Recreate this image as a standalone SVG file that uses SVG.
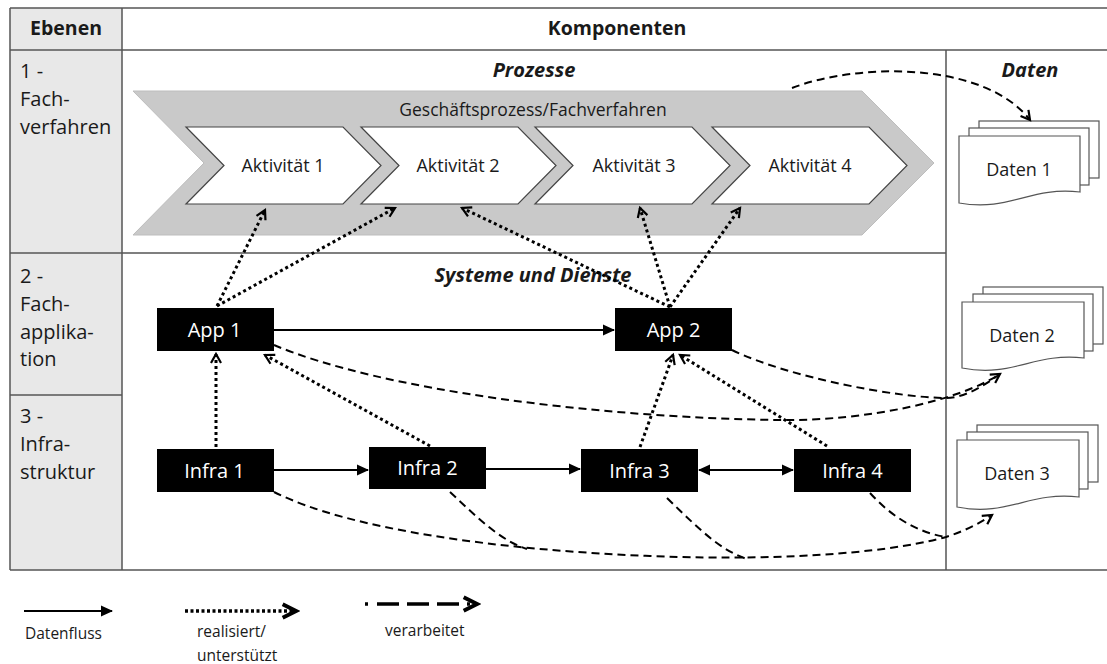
<svg xmlns="http://www.w3.org/2000/svg" width="1107" height="664" viewBox="0 0 1107 664">
<style>
text{font-family:"Open Sans","Noto Sans",sans-serif;fill:#1a1a1a}
.hd{font-size:19.5px;font-weight:bold}
.sec{font-size:20px;font-weight:bold;font-style:italic}
.lv{font-size:20px}
.act{font-size:18px;text-anchor:middle}
.box rect{fill:#000}
.box text{fill:#fff;font-size:20px;text-anchor:middle}
.doc path,.doc rect{fill:#fff;stroke:#555;stroke-width:1.2}
.doc text{font-size:18px;text-anchor:middle}
.grid{stroke:#555;stroke-width:1.5;fill:none}
.solid{stroke:#000;stroke-width:1.8;fill:none}
.dot{stroke:#000;stroke-width:3;stroke-dasharray:3 3;fill:none}
.dash{stroke:#000;stroke-width:2;stroke-dasharray:8 5;fill:none}
.lg{font-size:15.5px}
</style>
<defs>
<marker id="fa" markerUnits="userSpaceOnUse" markerWidth="12" markerHeight="12" refX="11" refY="6" orient="auto-start-reverse" viewBox="0 0 12 12">
<path d="M0,0.5 L12,6 L0,11.5 Z" fill="#000"/>
</marker>
<marker id="oa" markerUnits="userSpaceOnUse" markerWidth="14" markerHeight="14" refX="10" refY="6" orient="auto" viewBox="0 0 14 12">
<path d="M1,1 L10,6 L1,11" fill="none" stroke="#000" stroke-width="2.2"/>
</marker>
<marker id="ob" markerUnits="userSpaceOnUse" markerWidth="20" markerHeight="20" refX="14" refY="8" orient="auto" viewBox="0 0 18 16">
<path d="M2,2 L14,8 L2,14" fill="none" stroke="#000" stroke-width="3.5"/>
</marker>
</defs>
<g id="table">
<rect x="10" y="8" width="112" height="562" fill="#e8e8e8"/>
<path class="grid" d="M10,8 H1107 M10,50 H1107 M10,570 H1107 M10,8 V570 M122,8 V570 M946,50 V570 M10,253 H946 M10,395 H122"/>
<text class="hd" x="66" y="35" text-anchor="middle">Ebenen</text>
<text class="hd" x="617" y="35" text-anchor="middle">Komponenten</text>
<text class="lv" x="20" y="78">1 -</text>
<text class="lv" x="20" y="106">Fach-</text>
<text class="lv" x="20" y="134">verfahren</text>
<text class="lv" x="20" y="283">2 -</text>
<text class="lv" x="20" y="311">Fach-</text>
<text class="lv" x="20" y="339">applika-</text>
<text class="lv" x="20" y="366">tion</text>
<text class="lv" x="20" y="423">3 -</text>
<text class="lv" x="20" y="451">Infra-</text>
<text class="lv" x="20" y="479">struktur</text>
<text class="sec" x="534" y="77" text-anchor="middle">Prozesse</text>
<text class="sec" x="1030" y="77" text-anchor="middle">Daten</text>
<text class="sec" x="533" y="282" text-anchor="middle">Systeme und Dienste</text>
</g>
<g id="prozess">
<path d="M133,91 L862,91 L934,163 L862,235 L133,235 L204,163 Z" fill="#c9c9c9" stroke="#bdbdbd" stroke-width="1"/>
<text x="533" y="116" font-size="17.5" text-anchor="middle" fill="#2a2a2a">Geschäftsprozess/Fachverfahren</text>
</g>
<g id="akt1"><path d="M186,127 L343,127 L381,165.5 L343,204 L186,204 L224,165.5 Z" fill="#fff" stroke="#444" stroke-width="1.2"/><text class="act" x="283" y="172">Aktivität 1</text></g>
<g id="akt2"><path d="M361,127 L518,127 L556,165.5 L518,204 L361,204 L399,165.5 Z" fill="#fff" stroke="#444" stroke-width="1.2"/><text class="act" x="458" y="172">Aktivität 2</text></g>
<g id="akt3"><path d="M535,127 L692,127 L730,165.5 L692,204 L535,204 L573,165.5 Z" fill="#fff" stroke="#444" stroke-width="1.2"/><text class="act" x="634" y="172">Aktivität 3</text></g>
<g id="akt4"><path d="M712,127 L869,127 L907,165.5 L869,204 L712,204 L750,165.5 Z" fill="#fff" stroke="#444" stroke-width="1.2"/><text class="act" x="810" y="172">Aktivität 4</text></g>
<g id="app1" class="box"><rect x="157" y="308" width="117" height="43"/><text x="214.5" y="337">App 1</text></g>
<g id="app2" class="box"><rect x="615" y="308" width="117" height="43"/><text x="673.5" y="337">App 2</text></g>
<g id="infra1" class="box"><rect x="157" y="449" width="117" height="43"/><text x="214.5" y="478">Infra 1</text></g>
<g id="infra2" class="box"><rect x="369" y="447" width="117" height="42"/><text x="427.5" y="475">Infra 2</text></g>
<g id="infra3" class="box"><rect x="581" y="449" width="117" height="43"/><text x="639.5" y="478">Infra 3</text></g>
<g id="infra4" class="box"><rect x="794" y="449" width="117" height="43"/><text x="852.5" y="478">Infra 4</text></g>
<g id="daten1" class="doc">
<rect x="979" y="121" width="120" height="57"/>
<rect x="969" y="128" width="120" height="57"/>
<path d="M959,136 H1080 V192 C1030,186 1010,212 959,203 Z"/>
<text x="1019" y="176">Daten 1</text>
</g>
<g id="daten2" class="doc">
<rect x="983" y="287" width="120" height="57"/>
<rect x="973" y="294" width="120" height="57"/>
<path d="M962,302 H1084 V358 C1034,352 1013,378 962,368 Z"/>
<text x="1022" y="342">Daten 2</text>
</g>
<g id="daten3" class="doc">
<rect x="977" y="425" width="121" height="57"/>
<rect x="967" y="432" width="121" height="57"/>
<path d="M957,440 H1079 V497 C1029,491 1008,517 957,507 Z"/>
<text x="1017" y="480">Daten 3</text>
</g>
<g id="connectors">
<path class="solid" d="M274,330 L614,330" marker-end="url(#fa)"/>
<path class="solid" d="M274,470 L368,470" marker-end="url(#fa)"/>
<path class="solid" d="M486,469 L580,469" marker-end="url(#fa)"/>
<path class="solid" d="M699,470 L793,470" marker-start="url(#fa)" marker-end="url(#fa)"/>
<path class="dot" d="M217,306 L265,210" marker-end="url(#oa)"/>
<path class="dot" d="M217,306 L395,208" marker-end="url(#oa)"/>
<path class="dot" d="M670,307 L462,208" marker-end="url(#oa)"/>
<path class="dot" d="M670,307 L640,208" marker-end="url(#oa)"/>
<path class="dot" d="M670,307 L740,208" marker-end="url(#oa)"/>
<path class="dot" d="M216,447 L216,354" marker-end="url(#oa)"/>
<path class="dot" d="M430,446 L265,355" marker-end="url(#oa)"/>
<path class="dot" d="M640,447 L673,355" marker-end="url(#oa)"/>
<path class="dot" d="M827,446 L680,355" marker-end="url(#oa)"/>
<path class="dash" d="M792,88 C860,62 985,62 1030,120" marker-end="url(#oa)"/>
<path class="dash" d="M274,345 C380,390 600,418 780,420 C870,421 960,400 1000,374" marker-end="url(#oa)"/>
<path class="dash" d="M732,350 C790,378 900,398 946,398 C965,398 985,385 1000,374"/>
<path class="dash" d="M274,492 C350,530 500,550 650,556 C800,562 900,550 946,537 C965,531 980,523 992,515" marker-end="url(#oa)"/>
<path class="dash" d="M450,492 C480,520 500,540 527,549"/>
<path class="dash" d="M667,498 C700,530 720,550 747,559"/>
<path class="dash" d="M870,493 C890,515 915,532 946,537"/>
</g>
<g id="legend">
<path class="solid" d="M24,611 L112,611" marker-end="url(#fa)"/>
<path d="M185,611 L296,611" stroke="#000" stroke-width="3.5" stroke-dasharray="3 2.5" fill="none" marker-end="url(#ob)"/>
<path d="M365,604 L477,604" stroke="#000" stroke-width="3.5" stroke-dasharray="3 9 22 8 22 8 22 8" fill="none" marker-end="url(#ob)"/>
<text class="lg" x="25" y="639">Datenfluss</text>
<text class="lg" x="197" y="637">realisiert/</text>
<text class="lg" x="197" y="661">unterstützt</text>
<text class="lg" x="385" y="636">verarbeitet</text>
</g>
</svg>
